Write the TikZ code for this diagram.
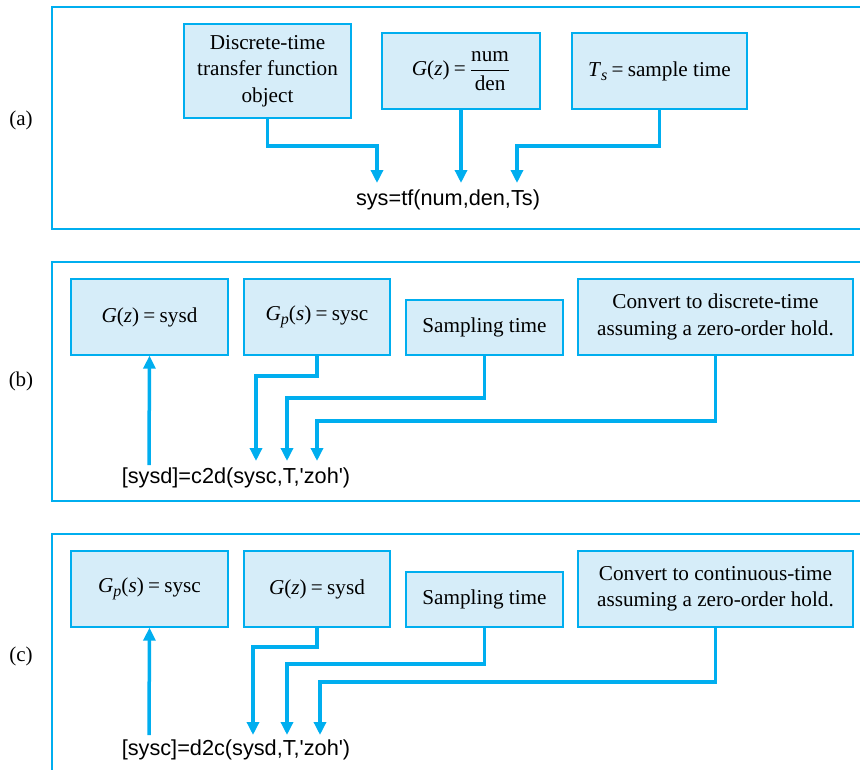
\documentclass[tikz,border=0pt]{standalone}
\usepackage{fontspec}
\setmainfont{Liberation Serif}
\newfontfamily\sansf{Liberation Sans}
\usetikzlibrary{arrows.meta}
\definecolor{cy}{HTML}{00AEEF}
\definecolor{bx}{HTML}{D6EDF9}
\newcommand{\iv}[1]{\textit{#1}}
\newcommand{\subx}[1]{\raisebox{-0.45ex}{\fontsize{16}{16}\selectfont\textit{#1}}}
\newcommand{\eqs}{\hspace{0.2em}=\hspace{0.2em}}
\begin{document}
\begin{tikzpicture}[x=1pt,y=-1pt,
  frame/.style={draw=cy, line width=1.3pt},
  box/.style={draw=cy, fill=bx, line width=1.3pt, align=center, inner sep=0pt, font=\fontsize{21.2}{26.5}\selectfont},
  conn/.style={draw=cy, line width=3.5pt, -{Triangle[width=12pt,length=13pt]}},
  code/.style={font=\sansf\fontsize{21.7}{24}\selectfont, inner sep=0pt},
  lab/.style={font=\fontsize{21}{24}\selectfont, inner sep=0pt}]
\useasboundingbox (0,0) rectangle (860,769);
\clip (0,0) rectangle (860,769);

% ---------- (a) ----------
\draw[frame] (52,7) rectangle (866,229);
\node[lab] (la) at (21,120) {(a)};
\node[box, minimum width=167pt, minimum height=94pt] (a1) at (267.5,71) {Discrete-time\\transfer function\\object};
\node[box, minimum width=158pt, minimum height=76pt] (a2) at (461,71) {\iv{G}(\iv{z})\eqs$\displaystyle\frac{\mbox{num}}{\mbox{den}}$};
\node[box, minimum width=175pt, minimum height=76pt] (a3) at (659.5,71) {\raisebox{3pt}{\iv{T}\subx{s}\eqs sample time}};
\node[code] (ca) at (448,200) {sys=tf(num,den,Ts)};
\coordinate (ta1) at (377,183);
\coordinate (ta2) at (461,183);
\coordinate (ta3) at (517,183);
\draw[conn] (a1.south) |- (ta1 |- 0,146) -- (ta1);
\draw[conn] (a2.south) -- (ta2);
\draw[conn] (a3.south) |- (ta3 |- 0,146) -- (ta3);

% ---------- (b) ----------
\draw[frame] (52,262) rectangle (866,501);
\node[lab] (lb) at (21,381) {(b)};
\node[box, minimum width=157pt, minimum height=76pt] (b1) at (149.5,317) {\raisebox{4pt}{\iv{G}(\iv{z})\eqs sysd}};
\node[box, minimum width=146pt, minimum height=76pt] (b2) at (317,317) {\raisebox{4pt}{\iv{G}\subx{p}(\iv{s})\eqs sysc}};
\node[box, minimum width=157pt, minimum height=55pt] (b3) at (484.5,327.5) {Sampling time};
\node[box, minimum width=275pt, minimum height=76pt] (b4) at (715.5,317) {Convert to discrete-time\\assuming a zero-order hold.};
\node[code] (cb) at (236,478) {[sysd]=c2d(sysc,T,'zoh')};
\coordinate (ub) at (149,465);
\coordinate (tb2) at (256,461);
\coordinate (tb3) at (287,461);
\coordinate (tb4) at (317,461);
\draw[conn] (ub) -- (b1.south);
\draw[conn] (b2.south) |- (tb2 |- 0,376) -- (tb2);
\draw[conn] (b3.south) |- (tb3 |- 0,398) -- (tb3);
\draw[conn] (b4.south) |- (tb4 |- 0,421) -- (tb4);

% ---------- (c) ----------
\draw[frame] (52,534) rectangle (866,790);
\node[lab] (lc) at (21,656) {(c)};
\node[box, minimum width=157pt, minimum height=76pt] (c1) at (149.5,589) {\raisebox{4pt}{\iv{G}\subx{p}(\iv{s})\eqs sysc}};
\node[box, minimum width=146pt, minimum height=76pt] (c2) at (317,589) {\raisebox{4pt}{\iv{G}(\iv{z})\eqs sysd}};
\node[box, minimum width=157pt, minimum height=55pt] (c3) at (484.5,599.5) {Sampling time};
\node[box, minimum width=275pt, minimum height=76pt] (c4) at (715.5,589) {Convert to continuous-time\\assuming a zero-order hold.};
\node[code] (cc) at (236,750) {[sysc]=d2c(sysd,T,'zoh')};
\coordinate (uc) at (149,735);
\coordinate (tc2) at (253,735);
\coordinate (tc3) at (287,735);
\coordinate (tc4) at (320,735);
\draw[conn] (uc) -- (c1.south);
\draw[conn] (c2.south) |- (tc2 |- 0,647) -- (tc2);
\draw[conn] (c3.south) |- (tc3 |- 0,664) -- (tc3);
\draw[conn] (c4.south) |- (tc4 |- 0,682) -- (tc4);
\end{tikzpicture}
\end{document}
